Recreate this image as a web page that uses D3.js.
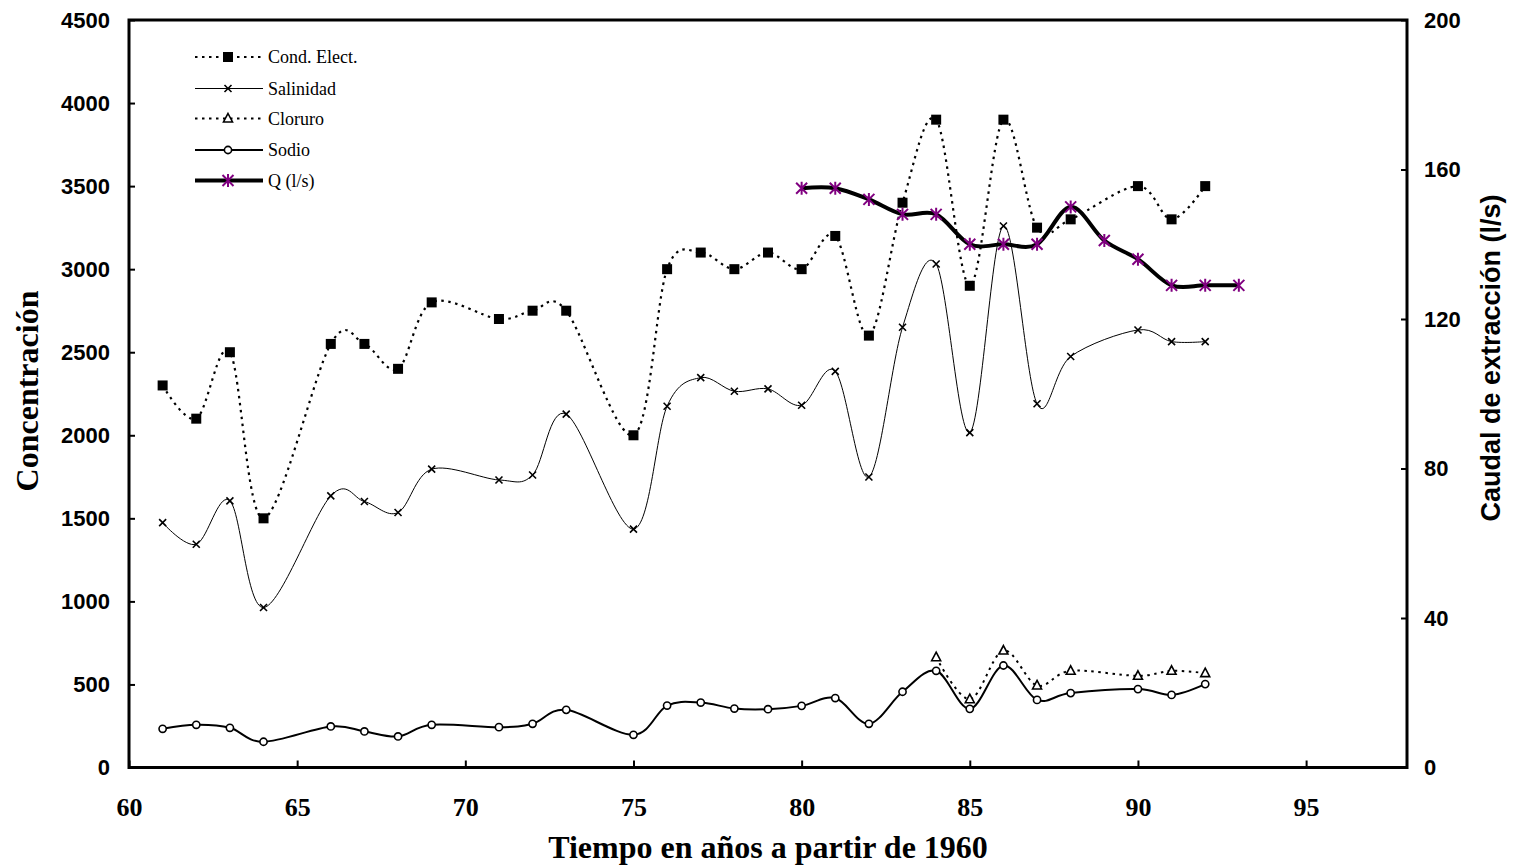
<!DOCTYPE html>
<html><head><meta charset="utf-8">
<script src="https://cdn.jsdelivr.net/npm/d3@7"></script>
<style>
html,body{margin:0;padding:0;background:#fff;}
svg{display:block;}
</style>
</head><body>
<svg id="chart" width="1521" height="866"></svg>
<script>
// ---- data ----
const yearsMain = [61,62,63,64,66,67,68,69,71,72,73,75,76,77,78,79,80,81,82,83,84,85,86,87,88,90,91,92];
const condElect = [2300,2100,2500,1500,2550,2550,2400,2800,2700,2750,2750,2000,3000,3100,3000,3100,3000,3200,2600,3400,3900,2900,3900,3250,3300,3500,3300,3500];
const salinidad = [1474,1344,1605,963,1635,1601,1535,1796,1731,1761,2127,1435,2175,2347,2265,2279,2181,2385,1749,2650,3031,2016,3260,2190,2474,2634,2564,2564];
const sodio = [233,257,239,155,247,217,187,257,243,263,347,197,373,391,355,351,371,418,263,456,582,353,614,407,448,472,437,502];
const yearsCloruro = [84,85,86,87,88,90,91,92];
const cloruro = [664,411,704,494,582,552,582,568];
const yearsQ = [80,81,82,83,84,85,86,87,88,89,90,91,92,93];
const caudal = [155,155,152,148,148,140,140,140,150,141,136,129,129,129];
const xTicks = [60,65,70,75,80,85,90,95];
const yLeftTicks = [0,500,1000,1500,2000,2500,3000,3500,4000,4500];
const yRightTicks = [0,40,80,120,160,200];
const legendLabels = ["Cond. Elect.","Salinidad","Cloruro","Sodio","Q (l/s)"];
const xTitle = "Tiempo en años a partir de 1960";
const yLeftTitle = "Concentración";
const yRightTitle = "Caudal de extracción (l/s)";

// ---- layout ----
const L = 129, R = 1407, T = 20, B = 767.5;
const svg = d3.select("#chart");
const x = d3.scaleLinear().domain([60, 98]).range([L, R]);
const yL = d3.scaleLinear().domain([0, 4500]).range([B, T]);
const yR = d3.scaleLinear().domain([0, 200]).range([B, T]);
const serif = "'Liberation Serif','Times New Roman',serif";
const sans = "'Liberation Sans',Arial,sans-serif";
const purple = "#800080";
const curve = d3.curveCatmullRom.alpha(0);

// axes
const gx = svg.append("g").attr("transform", `translate(0,${B})`)
  .call(d3.axisBottom(x).tickValues(xTicks).tickSize(-7).tickPadding(30).tickFormat(d3.format("d")));
gx.selectAll("text").attr("font-family", serif).attr("font-weight", "bold").attr("font-size", 26).attr("fill","#000");
const gl = svg.append("g").attr("transform", `translate(${L},0)`)
  .call(d3.axisLeft(yL).tickValues(yLeftTicks).tickSize(-6).tickPadding(19).tickFormat(d3.format("d")));
gl.selectAll("text").attr("font-family", sans).attr("font-weight", "bold").attr("font-size", 22).attr("fill","#000");
const gr = svg.append("g").attr("transform", `translate(${R},0)`)
  .call(d3.axisRight(yR).tickValues(yRightTicks).tickSize(-6).tickPadding(17).tickFormat(d3.format("d")));
gr.selectAll("text").attr("font-family", sans).attr("font-weight", "bold").attr("font-size", 22).attr("fill","#000");
[gx, gl, gr].forEach(g => {
  g.select(".domain").remove();
  g.selectAll(".tick line").attr("stroke", "#000").attr("stroke-width", 2);
});

// frame
svg.append("rect").attr("x", L).attr("y", T).attr("width", R - L).attr("height", B - T)
  .attr("fill", "none").attr("stroke", "#000").attr("stroke-width", 3);

// titles
svg.append("text").attr("x", (L + R) / 2).attr("y", 858).attr("text-anchor", "middle")
  .attr("font-family", serif).attr("font-weight", "bold").attr("font-size", 32).text(xTitle);
svg.append("text").attr("transform", `translate(38,${391}) rotate(-90)`).attr("text-anchor", "middle")
  .attr("font-family", serif).attr("font-weight", "bold").attr("font-size", 32).text(yLeftTitle);
svg.append("text").attr("transform", `translate(1500,${358}) rotate(-90)`).attr("text-anchor", "middle")
  .attr("font-family", sans).attr("font-weight", "bold").attr("font-size", 27).text(yRightTitle);

// marker helpers
function drawMarker(g, type, cx, cy) {
  if (type === "square") {
    g.append("rect").attr("x", cx - 5).attr("y", cy - 5).attr("width", 10).attr("height", 10).attr("fill", "#000");
  } else if (type === "x") {
    g.append("path").attr("d", `M${cx-3.5},${cy-3.5}L${cx+3.5},${cy+3.5}M${cx-3.5},${cy+3.5}L${cx+3.5},${cy-3.5}`)
      .attr("stroke", "#000").attr("stroke-width", 1.6).attr("fill", "none");
  } else if (type === "triangle") {
    g.append("path").attr("d", `M${cx},${cy-5}L${cx+4.5},${cy+3.5}L${cx-4.5},${cy+3.5}Z`)
      .attr("stroke", "#000").attr("stroke-width", 1.6).attr("fill", "#fff");
  } else if (type === "circle") {
    g.append("circle").attr("cx", cx).attr("cy", cy).attr("r", 3.6)
      .attr("stroke", "#000").attr("stroke-width", 1.6).attr("fill", "#fff");
  } else if (type === "star") {
    g.append("path").attr("d", `M${cx},${cy-6.5}L${cx},${cy+6.5}M${cx-5.5},${cy-5.5}L${cx+5.5},${cy+5.5}M${cx-5.5},${cy+5.5}L${cx+5.5},${cy-5.5}`)
      .attr("stroke", purple).attr("stroke-width", 2).attr("fill", "none");
  }
}

const series = [
  {name: legendLabels[0], xs: yearsMain, ys: condElect, scale: yL, width: 2.2, dash: "2.5,4.5", marker: "square"},
  {name: legendLabels[1], xs: yearsMain, ys: salinidad, scale: yL, width: 1, dash: null, marker: "x"},
  {name: legendLabels[2], xs: yearsCloruro, ys: cloruro, scale: yL, width: 2, dash: "2.5,4.5", marker: "triangle"},
  {name: legendLabels[3], xs: yearsMain, ys: sodio, scale: yL, width: 2, dash: null, marker: "circle"},
  {name: legendLabels[4], xs: yearsQ, ys: caudal, scale: yR, width: 4, dash: null, marker: "star"}
];

series.forEach(s => {
  const pts = s.xs.map((d, i) => [x(d), s.scale(s.ys[i])]);
  const g = svg.append("g");
  g.append("path").attr("d", d3.line().curve(curve)(pts))
    .attr("fill", "none").attr("stroke", "#000").attr("stroke-width", s.width)
    .attr("stroke-dasharray", s.dash);
  pts.forEach(p => drawMarker(g, s.marker, p[0], p[1]));
});

// legend
const legRows = [57, 88.5, 118.5, 150, 180.5];
series.forEach((s, i) => {
  const g = svg.append("g");
  const yy = legRows[i];
  g.append("line").attr("x1", 195).attr("x2", 263).attr("y1", yy).attr("y2", yy)
    .attr("stroke", "#000").attr("stroke-width", s.width).attr("stroke-dasharray", s.dash);
  drawMarker(g, s.marker, 228, yy);
  g.append("text").attr("x", 268).attr("y", yy + 6).attr("font-family", serif).attr("font-size", 18).text(s.name);
});
</script>
</body></html>
